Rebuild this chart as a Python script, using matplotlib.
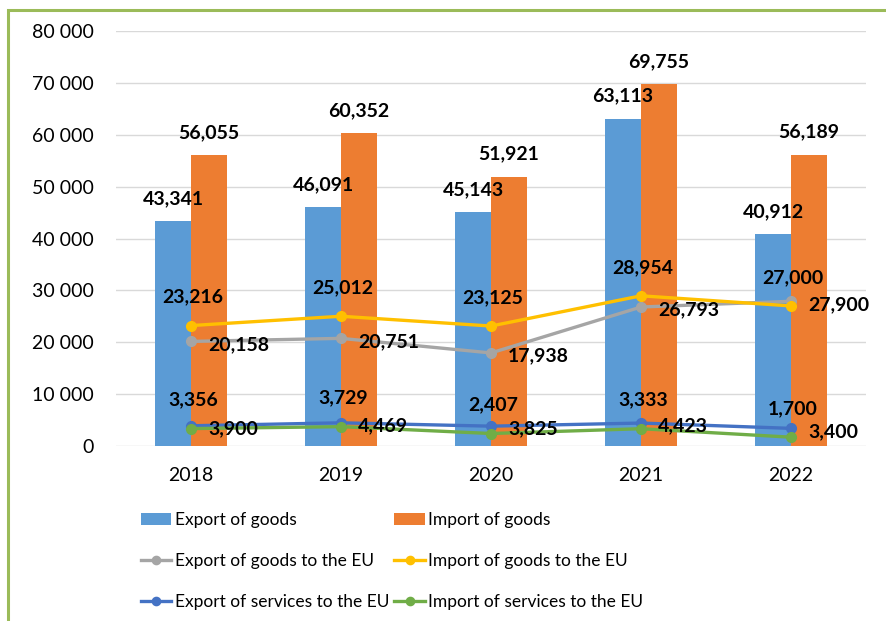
import numpy as np
import matplotlib
matplotlib.use("Agg")
import matplotlib.pyplot as plt
from matplotlib.patches import Rectangle

plt.rcParams['font.family'] = ['Lato', 'DejaVu Sans']

years = ['2018', '2019', '2020', '2021', '2022']
export_goods = [43341, 46091, 45143, 63113, 40912]
import_goods = [56055, 60352, 51921, 69755, 56189]
export_goods_eu = [20158, 20751, 17938, 26793, 27900]
import_goods_eu = [23216, 25012, 23125, 28954, 27000]
export_services_eu = [3900, 4469, 3825, 4423, 3400]
import_services_eu = [3356, 3729, 2407, 3333, 1700]

W, H = 886, 621
fig = plt.figure(figsize=(W / 100, H / 100), dpi=100)
ax = fig.add_axes([116 / W, 1 - 446 / H, 750 / W, 415 / H])

x = np.arange(len(years))
bw = 0.24
b1 = ax.bar(x - bw / 2, export_goods, bw, color='#5B9BD5', label='Export of goods', zorder=2)
b2 = ax.bar(x + bw / 2, import_goods, bw, color='#ED7D31', label='Import of goods', zorder=2)

def line(vals, color, label):
    l, = ax.plot(x, vals, color=color, lw=2.4, marker='o', ms=7, label=label, zorder=3)
    return l

l1 = line(export_goods_eu, '#A5A5A5', 'Export of goods to the EU')
l2 = line(import_goods_eu, '#FFC000', 'Import of goods to the EU')
l3 = line(export_services_eu, '#4472C4', 'Export of services to the EU')
l4 = line(import_services_eu, '#70AD47', 'Import of services to the EU')

lab = dict(fontsize=14, fontweight='bold', color='black', textcoords='offset pixels', zorder=5)
for i in range(len(years)):
    ax.annotate(f'{export_goods[i]:,}', (x[i] - bw / 2, export_goods[i]), xytext=(0, 14), ha='center', va='bottom', **lab)
    ax.annotate(f'{import_goods[i]:,}', (x[i] + bw / 2, import_goods[i]), xytext=(0, 14), ha='center', va='bottom', **lab)
    ax.annotate(f'{import_goods_eu[i]:,}', (x[i], import_goods_eu[i]), xytext=(2, 20), ha='center', va='bottom', **lab)
    ax.annotate(f'{export_goods_eu[i]:,}', (x[i], export_goods_eu[i]), xytext=(17, -3), ha='left', va='center', **lab)
    ax.annotate(f'{import_services_eu[i]:,}', (x[i], import_services_eu[i]), xytext=(2, 20), ha='center', va='bottom', **lab)
    ax.annotate(f'{export_services_eu[i]:,}', (x[i], export_services_eu[i]), xytext=(17, -3), ha='left', va='center', **lab)

ax.set_xlim(-0.5, 4.5)
ax.set_ylim(0, 80000)
ax.set_yticks(np.arange(0, 80001, 10000))
ax.set_yticklabels([f'{v:,}'.replace(',', ' ') for v in range(0, 80001, 10000)])
ax.set_xticks(x)
ax.set_xticklabels(years)
ax.tick_params(axis='both', length=0, labelsize=14)
ax.tick_params(axis='y', pad=16)
ax.tick_params(axis='x', pad=15)
ax.grid(axis='y', color='#D9D9D9', lw=1, zorder=0)
ax.set_axisbelow(True)
for s in ax.spines.values():
    s.set_visible(False)

handles = [b1, l1, l3, b2, l2, l4]
fig.legend(handles=handles, labels=[h.get_label() for h in handles], ncol=2,
           loc='upper left', bbox_to_anchor=(141 / W, 1 - 512 / H), frameon=False,
           fontsize=12.5, borderpad=0, borderaxespad=0, handlelength=1.75,
           handletextpad=0.2, columnspacing=0.3, labelspacing=1.45, markerscale=0.85)

# green frame around the chart
fig.patches.append(Rectangle((8 / W, -0.1), 2, 1.1 - 10 / H, transform=fig.transFigure,
                             fill=False, ec='#9BBB59', lw=2.2))

fig.savefig('out.png', dpi=100)
